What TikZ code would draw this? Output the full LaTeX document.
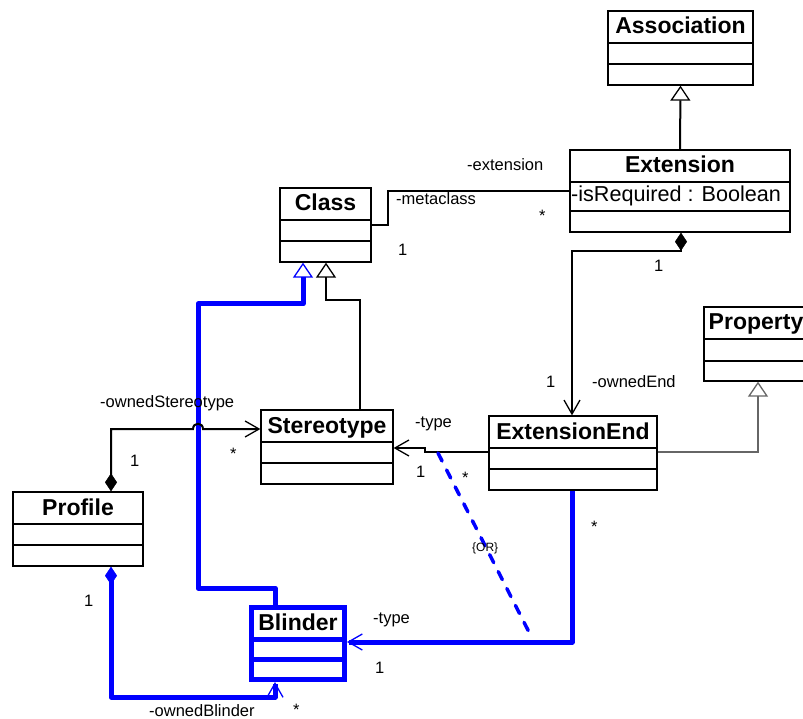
\documentclass[tikz,border=0pt]{standalone}
\usepackage{fontspec}
\setmainfont{Liberation Sans}
\usetikzlibrary{arrows.meta}
\definecolor{umlblue}{RGB}{0,0,255}
\tikzset{
  classbox/.style={draw=black,line width=1.3pt,inner sep=0pt,fill=white},
  sepline/.style={draw=black,line width=1.3pt},
  blinderbox/.style={draw=umlblue,line width=5pt},
  title/.style={font=\fontsize{23}{26}\selectfont\bfseries,inner sep=0pt},
  attr/.style={font=\fontsize{21.6}{25}\selectfont,inner sep=0pt,anchor=base west},
  lbl/.style={font=\fontsize{16.5}{19}\selectfont,inner sep=0pt,anchor=base west},
  smalllbl/.style={font=\fontsize{12}{14}\selectfont,inner sep=0pt,anchor=base west},
  assocline/.style={draw=black,line width=2pt},
  greyline/.style={draw=black!60,line width=1.3pt},
  blueline/.style={draw=umlblue,line width=5pt,line join=round},
  dashblue/.style={draw=umlblue,line width=3.5pt,line cap=round,dash pattern=on 9pt off 10pt},
  gentip/.style={arrows={-Triangle[open,length=15pt,width=20pt,line width=1.3pt]}},
  navtip/.style={arrows={-Straight Barb[length=14pt,width=16pt,line width=1.3pt]}},
  compnav/.style={arrows={Diamond[length=18pt,width=12pt,line width=0.5pt]-Straight Barb[length=14pt,width=16pt,line width=1.3pt]}},
}
\newcommand{\umlclass}[9][]{%
  \pgfmathsetmacro\cw{#5-#3}%
  \pgfmathsetmacro\ch{#6-#4}%
  \node[classbox,#1,minimum width=\cw pt,minimum height=\ch pt] (#2) at ({(#3+#5)/2},{(#4+#6)/2}) {};
  \draw[sepline,#1] (#3,#7) -- (#5,#7) (#3,#8) -- (#5,#8);
  \node[title,anchor=base] (#2-t) at ({(#3+#5)/2},{#7-9}) {#9};
}
\begin{document}
\begin{tikzpicture}[x=1pt,y=-1pt]
\useasboundingbox (0,0) rectangle (803,719);
\clip (0,0) rectangle (803,719);

% classes
\umlclass{assoc}{608}{11}{753}{85}{43}{64}{Association}
\umlclass{ext}{570}{150}{790}{232}{182}{211}{Extension}
\node[attr] (ext-a) at (571,202) {-isRequired : Boolean};
\umlclass{cls}{280}{188}{371}{262}{220}{241}{Class}
\umlclass{ster}{261}{410}{393}{484}{442}{463}{Stereotype}
\umlclass{prof}{13}{492}{143}{566}{524}{545}{Profile}
\umlclass{eend}{489}{416}{657}{490}{448}{469}{ExtensionEnd}
\umlclass{prop}{704}{307}{808}{381}{339}{361}{Property}
\umlclass[blinderbox]{blind}{251.5}{607.5}{344.5}{679.5}{639.5}{659.5}{Blinder}

% generalizations
\draw[assocline,gentip] (ext.north) -- (assoc.south);
\draw[assocline,gentip] (ster.north -| 360,0) -- (360,300) -- (326,300) -- (cls.south -| 326,0);
\draw[blueline,gentip] (blind.north -| 275,0) -- (275,588) -- (198,588) -- (198,304) -- (303,304) -- (cls.south -| 303,0);
\draw[greyline,gentip] (eend.east |- 0,452) -- (758,452) -- (prop.south -| 758,0);

% associations
\draw[assocline] (cls.east) -- (388,225) -- (388,191) -- (ext.west);
\draw[assocline,compnav] (prof.north -| 111,0) -- (111,429) -- (193,429) .. controls (193,422) and (203,422) .. (203,429) -- (ster.west |- 0,429);
\draw[assocline,navtip] (eend.west |- 0,452) -- (425,452) -- (425,448) -- (ster.east |- 0,448);
\draw[assocline,compnav] (ext.south -| 681,0) -- (681,251) -- (572,251) -- (eend.north -| 572,0);
\draw[blueline,navtip] (eend.south -| 572,0) -- (572,642) -- (blind.east |- 0,642);
\draw[blueline,compnav] (prof.south -| 111,0) -- (111,697) -- (275,697) -- (blind.south -| 275,0);
\draw[dashblue] (438,453) -- (532,638);

% labels
\node[lbl] (l1) at (467,171) {-extension};
\node[lbl] (l2) at (396,205) {-metaclass};
\node[lbl] (l3) at (539,222) {*};
\node[lbl] (l4) at (398,256) {1};
\node[lbl] (l5) at (654,272) {1};
\node[lbl] (l6) at (546,387) {1};
\node[lbl] (l7) at (592,387) {-ownedEnd};
\node[lbl] (l8) at (100,407) {-ownedStereotype};
\node[lbl] (l9) at (130,466) {1};
\node[lbl] (l10) at (230,459) {*};
\node[lbl] (l11) at (415,427) {-type};
\node[lbl] (l12) at (416,477) {1};
\node[lbl] (l13) at (462,483) {*};
\node[lbl] (l14) at (591,532) {*};
\node[smalllbl] (l15) at (472,551) {\{OR\}};
\node[lbl] (l16) at (373,623) {-type};
\node[lbl] (l17) at (375,673) {1};
\node[lbl] (l18) at (84,606) {1};
\node[lbl] (l19) at (149,716) {-ownedBlinder};
\node[lbl] (l20) at (293,715) {*};
\end{tikzpicture}
\end{document}
